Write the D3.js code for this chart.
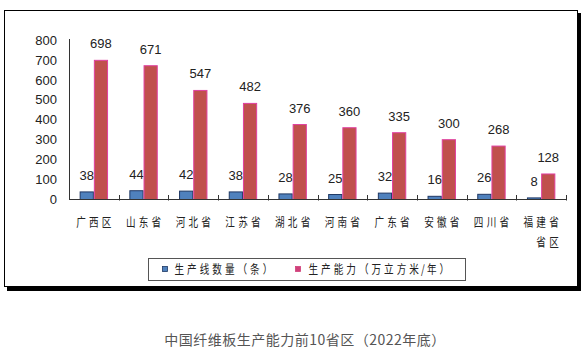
<!DOCTYPE html>
<html><head><meta charset="utf-8">
<script src="https://cdn.jsdelivr.net/npm/d3@7"></script>
<style>body{margin:0;background:#fff}svg{display:block}</style>
</head><body>
<svg id="c" width="587" height="362"></svg>
<script>
const categories = ["广西区","山东省","河北省","江苏省","湖北省","河南省","广东省","安徽省","四川省","福建省\n省区"];
const lines = [38,44,42,38,28,25,32,16,26,8];
const capacity = [698,671,547,482,376,360,335,300,268,128];
const seriesNames = ["生产线数量（条）","生产能力（万立方米/年）"];
const yTicks = [0,100,200,300,400,500,600,700,800];
const title = "中国纤维板生产能力前10省区（2022年底）";

const svg = d3.select("#c");
const fills = ["#4f81bd","#c0504d"];
const strokes = ["#1f3864","#e040a0"];

// frame with shadow
svg.append("rect").attr("x",7).attr("y",13).attr("width",574).attr("height",278).attr("fill","#000");
svg.append("rect").attr("x",4.5).attr("y",10.5).attr("width",573).attr("height",276).attr("fill","#fff").attr("stroke","#000").attr("stroke-width",1);

const x0 = d3.scaleBand().domain(d3.range(categories.length)).range([69,566]).paddingInner(0).paddingOuter(0);
const x1 = d3.scaleBand().domain([0,1]).range([0,x0.bandwidth()]).paddingInner(0).paddingOuter(0.75);
const y = d3.scaleLinear().domain([0,800]).range([199.5,40]);

// y tick labels
svg.append("g").selectAll("text").data(yTicks).join("text")
  .attr("x",57).attr("y",d=>y(d)).attr("dy","0.36em").attr("text-anchor","end")
  .attr("font-family","Liberation Sans, Arial, sans-serif").attr("font-size",13).attr("fill","#222")
  .text(d=>d);

// bars
const data = categories.map((c,i)=>({i, vals:[lines[i],capacity[i]]}));
const g = svg.append("g");
data.forEach(d=>{
  d.vals.forEach((v,s)=>{
    const bx = x0(d.i)+x1(s);
    g.append("rect").attr("x",bx+0.5).attr("y",y(v)).attr("width",x1.bandwidth()-1).attr("height",y(0)-y(v))
      .attr("fill",fills[s]).attr("stroke",strokes[s]).attr("stroke-width",1);
    g.append("text").attr("x",bx+x1.bandwidth()/2).attr("y",y(v)-12).attr("text-anchor","middle")
      .attr("font-family","Liberation Sans, Arial, sans-serif").attr("font-size",13).attr("fill","#222")
      .text(v);
  });
});

// axes lines
svg.append("line").attr("x1",69.5).attr("x2",69.5).attr("y1",39).attr("y2",200).attr("stroke","#333");
svg.append("line").attr("x1",69).attr("x2",566.5).attr("y1",199.5).attr("y2",199.5).attr("stroke","#333");
const bounds = d3.range(categories.length+1).map(i=> i<categories.length ? x0(i) : x0(i-1)+x0.bandwidth());
svg.append("g").selectAll("line").data(bounds.slice(1)).join("line")
  .attr("x1",d=>Math.round(d)+0.5).attr("x2",d=>Math.round(d)+0.5).attr("y1",195).attr("y2",200.5).attr("stroke","#333");

// category labels: narrow CJK chars
function charText(parent, ch, cx, cy, size, color){
  parent.append("text").attr("transform",`translate(${cx},${cy}) scale(0.8,1)`)
    .attr("text-anchor","middle").attr("font-family","Noto Sans CJK SC").attr("font-size",size)
    .attr("fill",color).text(ch);
}
const xl = svg.append("g");
const adv = 12.8;
categories.forEach((c,i)=>{
  const parts = c.split("\n");
  const n0 = parts[0].length;
  const cx = x0(i)+x0.bandwidth()/2;
  parts.forEach((p,li)=>{
    const off = li===0 ? 0 : n0 - p.length;
    Array.from(p).forEach((ch,k)=>{
      charText(xl, ch, cx + (k+off-(n0-1)/2)*adv, 227 + li*20, 12, "#222");
    });
  });
});

// legend
svg.append("rect").attr("x",148.5).attr("y",258.5).attr("width",317).attr("height",22).attr("fill","#fff").attr("stroke","#555");
const legX = [162, 295];
const legTextX = [173, 307];
const legendFills = ["#4f81bd","#d0407a"];
seriesNames.forEach((s,i)=>{
  svg.append("rect").attr("x",legX[i]+0.5).attr("y",266.5).attr("width",5).attr("height",5)
    .attr("fill",legendFills[i]).attr("stroke",i===0?"#1f3864":"#d0407a").attr("stroke-width",0.8);
  let xx = legTextX[i];
  Array.from(s).forEach(ch=>{
    const w = ch==="/" ? 5 : 12.6;
    charText(svg, ch, xx + w/2, 274, 12, "#222");
    xx += w;
  });
});

// title
svg.append("text").attr("x",305).attr("y",344.5).attr("text-anchor","middle")
  .attr("font-family","Noto Sans CJK SC").attr("font-size",14).attr("letter-spacing",0.5).attr("fill","#555").text(title);
</script>
</body></html>
